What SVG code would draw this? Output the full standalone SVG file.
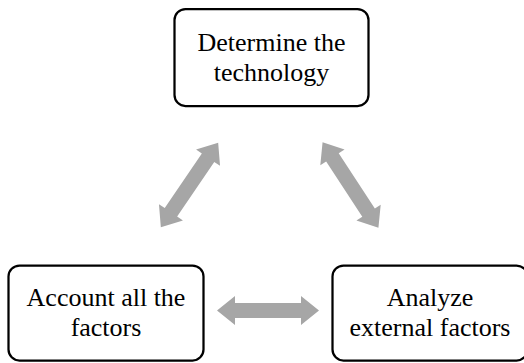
<svg xmlns="http://www.w3.org/2000/svg" xmlns:xlink="http://www.w3.org/1999/xlink" width="524" height="363" viewBox="0 0 524 363">
  <style>
    .box { fill: #ffffff; stroke: #000000; stroke-width: 2.25; }
    .label { font-family: "Liberation Serif", "Times New Roman", serif; font-size: 26px; fill: #000000; text-anchor: middle; }
    .arrow { fill: #a6a6a6; }
  </style>
  <defs>
    <path id="dblArrow" d="M -51 0 L -33 -14.5 L -33 -7.5 L 33 -7.5 L 33 -14.5 L 51 0 L 33 14.5 L 33 7.5 L -33 7.5 L -33 14.5 Z"/>
  </defs>
  <rect width="524" height="363" fill="#ffffff"/>
  <g id="connectors">
    <use xlink:href="#dblArrow" href="#dblArrow" class="arrow" transform="translate(189.5,185) rotate(-55.8)"/>
    <use xlink:href="#dblArrow" href="#dblArrow" class="arrow" transform="translate(350.5,185) rotate(56.8)"/>
    <use xlink:href="#dblArrow" href="#dblArrow" class="arrow" transform="translate(268,310.5)"/>
  </g>
  <g id="node-determine">
    <rect class="box" x="174.5" y="9" width="194" height="97" rx="11"/>
    <text class="label" x="271.5" y="50.5">Determine the</text>
    <text class="label" x="271.5" y="80.5">technology</text>
  </g>
  <g id="node-account">
    <rect class="box" x="8.5" y="265.5" width="195" height="95" rx="11"/>
    <text class="label" x="106" y="305.5">Account all the</text>
    <text class="label" x="106" y="335.5">factors</text>
  </g>
  <g id="node-analyze">
    <rect class="box" x="332.5" y="265.5" width="195" height="95" rx="11"/>
    <text class="label" x="430" y="305.5">Analyze</text>
    <text class="label" x="430" y="335.5">external factors</text>
  </g>
</svg>
